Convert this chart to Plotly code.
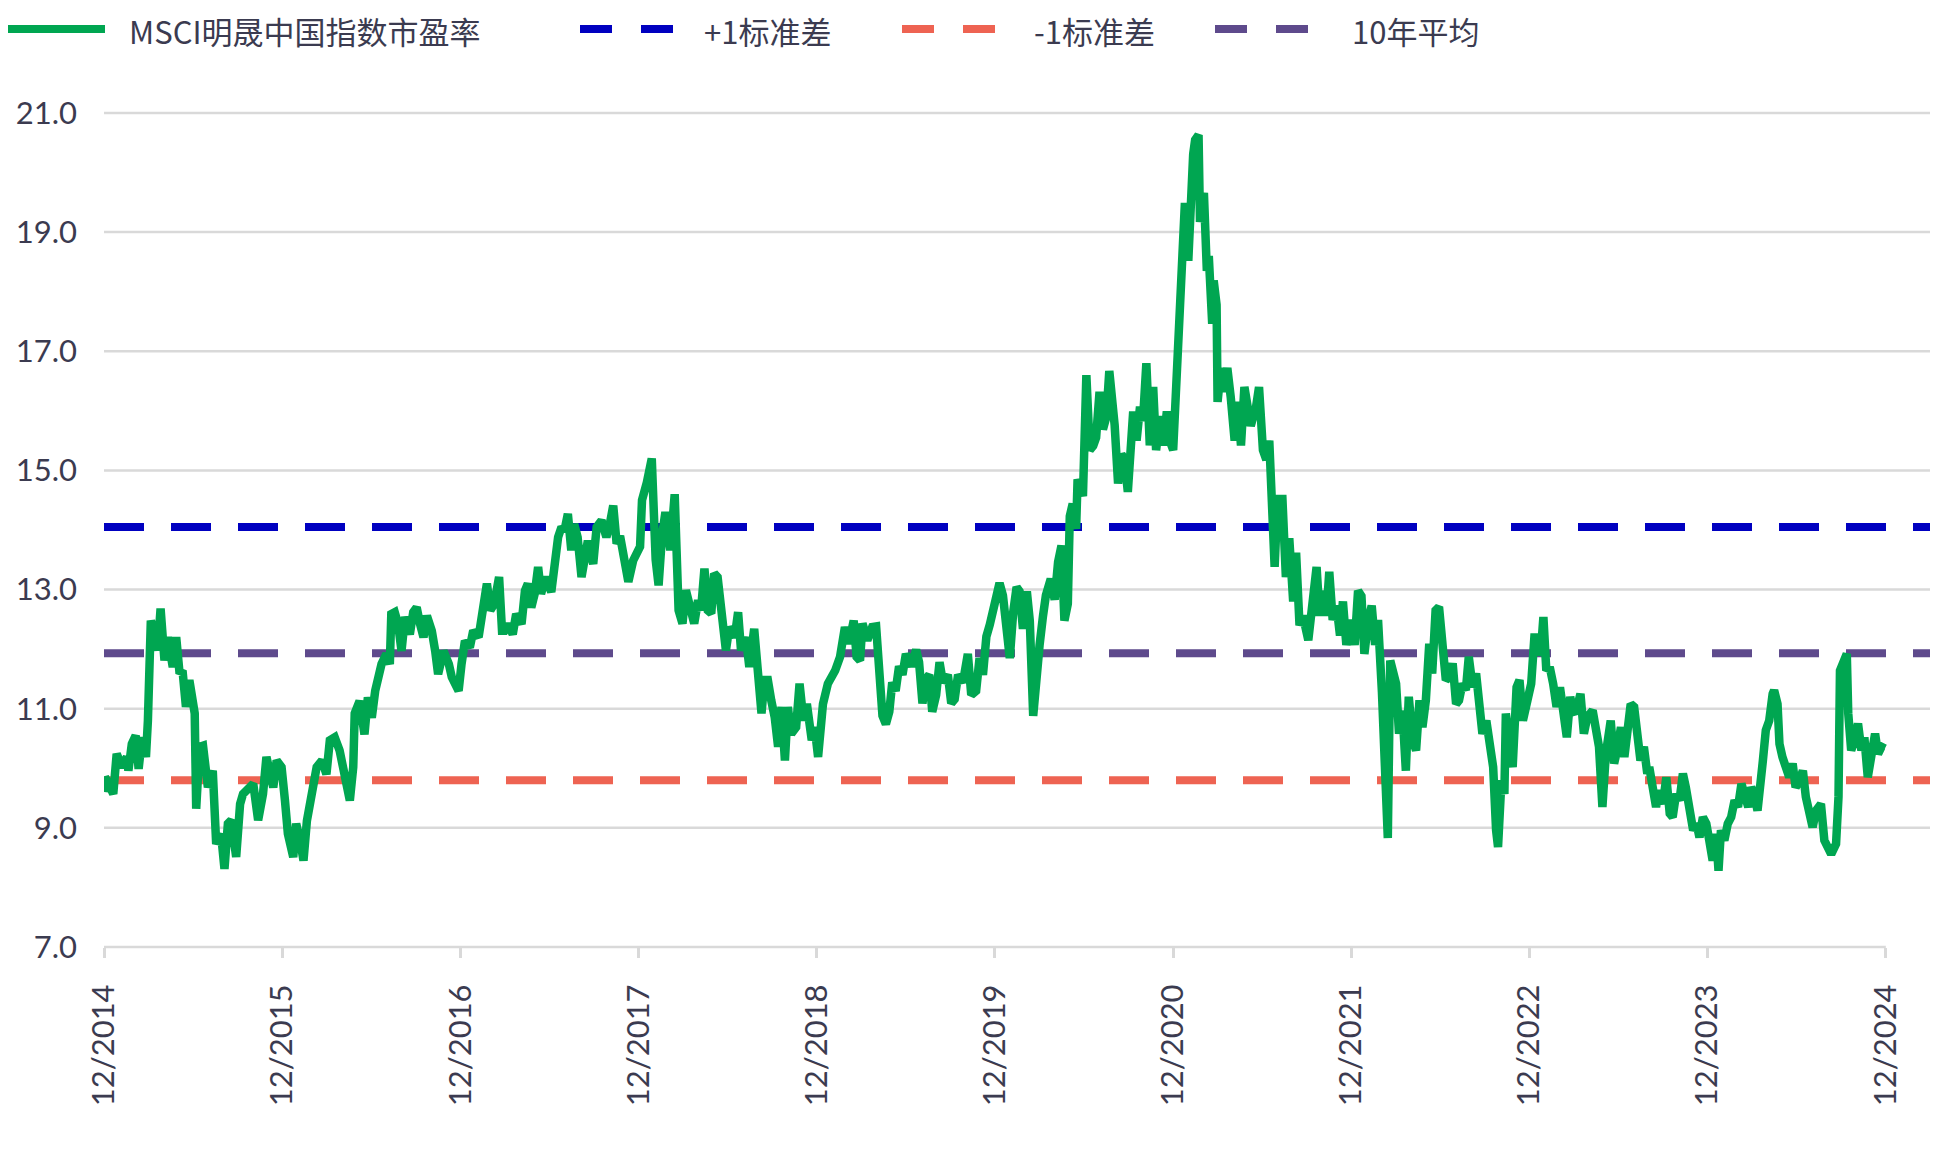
import plotly.graph_objects as go

# MSCI China forward P/E
PE_DATES = [
    "2014-12-01", "2014-12-03", "2014-12-10", "2014-12-20", "2014-12-27",
    "2015-01-07", "2015-01-17", "2015-01-20", "2015-01-27", "2015-02-04",
    "2015-02-10", "2015-02-17", "2015-02-25", "2015-03-01", "2015-03-07",
    "2015-03-14", "2015-03-21", "2015-03-27", "2015-04-04", "2015-04-11",
    "2015-04-21", "2015-04-28", "2015-05-05", "2015-05-11", "2015-05-18",
    "2015-05-25", "2015-06-05", "2015-06-08", "2015-06-15", "2015-06-22",
    "2015-07-02", "2015-07-12", "2015-07-19", "2015-07-29", "2015-08-05",
    "2015-08-12", "2015-08-19", "2015-08-29", "2015-09-06", "2015-09-12",
    "2015-09-23", "2015-10-03", "2015-10-13", "2015-10-23", "2015-10-30",
    "2015-11-06", "2015-11-13", "2015-11-20", "2015-11-30", "2015-12-07",
    "2015-12-13", "2015-12-24", "2015-12-30", "2016-01-07", "2016-01-14",
    "2016-01-21", "2016-01-27", "2016-02-04", "2016-02-10", "2016-02-21",
    "2016-03-01", "2016-03-08", "2016-03-18", "2016-03-28", "2016-04-05",
    "2016-04-11", "2016-04-18", "2016-04-25", "2016-04-28", "2016-05-08",
    "2016-05-18", "2016-05-25", "2016-06-02", "2016-06-09", "2016-06-15",
    "2016-06-22", "2016-07-02", "2016-07-09", "2016-07-12", "2016-07-19",
    "2016-07-26", "2016-08-02", "2016-08-09", "2016-08-19", "2016-08-26",
    "2016-09-02", "2016-09-09", "2016-09-16", "2016-09-23", "2016-10-03",
    "2016-10-10", "2016-10-16", "2016-10-27", "2016-11-07", "2016-11-13",
    "2016-11-20", "2016-11-27", "2016-12-03", "2016-12-10", "2016-12-20",
    "2016-12-27", "2017-01-07", "2017-01-14", "2017-01-20", "2017-01-24",
    "2017-01-31", "2017-02-08", "2017-02-18", "2017-02-24", "2017-03-01",
    "2017-03-08", "2017-03-18", "2017-03-25", "2017-04-05", "2017-04-12",
    "2017-04-18", "2017-04-25", "2017-05-02", "2017-05-09", "2017-05-15",
    "2017-05-25", "2017-06-05", "2017-06-12", "2017-06-19", "2017-06-26",
    "2017-07-02", "2017-07-09", "2017-07-16", "2017-07-22", "2017-07-29",
    "2017-08-06", "2017-08-13", "2017-08-19", "2017-08-30", "2017-09-06",
    "2017-09-16", "2017-09-26", "2017-10-03", "2017-10-10", "2017-10-17",
    "2017-10-24", "2017-11-10", "2017-11-20", "2017-12-04", "2017-12-08",
    "2017-12-18", "2017-12-28", "2018-01-05", "2018-01-11", "2018-01-18",
    "2018-01-25", "2018-02-04", "2018-02-13", "2018-02-21", "2018-03-01",
    "2018-03-08", "2018-03-15", "2018-03-25", "2018-04-02", "2018-04-08",
    "2018-04-15", "2018-04-22", "2018-04-29", "2018-05-05", "2018-05-12",
    "2018-05-19", "2018-05-29", "2018-06-05", "2018-06-16", "2018-06-23",
    "2018-06-29", "2018-07-09", "2018-07-16", "2018-07-26", "2018-08-03",
    "2018-08-10", "2018-08-16", "2018-08-23", "2018-08-30", "2018-09-06",
    "2018-09-13", "2018-09-20", "2018-09-27", "2018-10-03", "2018-10-10",
    "2018-10-20", "2018-10-27", "2018-11-04", "2018-11-11", "2018-11-21",
    "2018-11-27", "2018-12-04", "2018-12-14", "2018-12-24", "2019-01-08",
    "2019-01-18", "2019-01-28", "2019-02-05", "2019-02-15", "2019-02-21",
    "2019-02-28", "2019-03-05", "2019-03-15", "2019-03-25", "2019-04-02",
    "2019-04-08", "2019-04-15", "2019-04-22", "2019-04-29", "2019-05-05",
    "2019-05-12", "2019-05-19", "2019-05-26", "2019-06-02", "2019-06-13",
    "2019-06-23", "2019-06-29", "2019-07-06", "2019-07-13", "2019-07-20",
    "2019-07-26", "2019-08-03", "2019-08-10", "2019-08-17", "2019-08-27",
    "2019-09-03", "2019-09-10", "2019-09-17", "2019-09-27", "2019-10-07",
    "2019-10-14", "2019-10-24", "2019-10-31", "2019-11-07", "2019-11-14",
    "2019-11-21", "2019-11-28", "2019-12-04", "2019-12-11", "2019-12-18",
    "2019-12-24", "2020-01-01", "2020-01-08", "2020-01-15", "2020-01-21",
    "2020-01-28", "2020-02-05", "2020-02-11", "2020-02-18", "2020-02-25",
    "2020-03-02", "2020-03-09", "2020-03-15", "2020-03-25", "2020-04-02",
    "2020-04-09", "2020-04-16", "2020-04-22", "2020-04-29", "2020-05-03",
    "2020-05-09", "2020-05-16", "2020-05-19", "2020-05-30", "2020-06-06",
    "2020-06-13", "2020-06-20", "2020-06-26", "2020-07-03", "2020-07-10",
    "2020-07-17", "2020-07-23", "2020-08-03", "2020-08-10", "2020-08-17",
    "2020-08-23", "2020-08-30", "2020-09-10", "2020-09-17", "2020-09-24",
    "2020-09-30", "2020-10-07", "2020-10-14", "2020-10-21", "2020-10-27",
    "2020-11-04", "2020-11-11", "2020-11-18", "2020-11-24", "2020-12-01",
    "2020-12-05", "2020-12-11", "2020-12-14", "2020-12-18", "2020-12-21",
    "2020-12-25", "2021-01-01", "2021-01-05", "2021-01-11", "2021-01-15",
    "2021-01-22", "2021-01-25", "2021-02-02", "2021-02-05", "2021-02-08",
    "2021-02-12", "2021-02-19", "2021-02-22", "2021-02-28", "2021-03-02",
    "2021-03-09", "2021-03-15", "2021-03-22", "2021-03-29", "2021-04-06",
    "2021-04-12", "2021-04-19", "2021-04-26", "2021-05-03", "2021-05-09",
    "2021-05-20", "2021-05-26", "2021-06-03", "2021-06-10", "2021-06-16",
    "2021-06-27", "2021-07-03", "2021-07-13", "2021-07-20", "2021-07-27",
    "2021-08-04", "2021-08-10", "2021-08-17", "2021-08-24", "2021-09-04",
    "2021-09-11", "2021-09-21", "2021-09-27", "2021-10-04", "2021-10-11",
    "2021-10-17", "2021-10-24", "2021-11-01", "2021-11-08", "2021-11-14",
    "2021-11-21", "2021-12-01", "2021-12-08", "2021-12-15", "2021-12-22",
    "2021-12-28", "2022-01-05", "2022-01-12", "2022-01-19", "2022-01-25",
    "2022-02-02", "2022-02-09", "2022-02-14", "2022-02-19", "2022-02-26",
    "2022-03-03", "2022-03-09", "2022-03-16", "2022-03-23", "2022-03-29",
    "2022-04-06", "2022-04-13", "2022-04-20", "2022-04-26", "2022-05-03",
    "2022-05-10", "2022-05-16", "2022-05-23", "2022-05-30", "2022-06-07",
    "2022-06-13", "2022-06-20", "2022-06-27", "2022-07-04", "2022-07-10",
    "2022-07-17", "2022-07-24", "2022-07-30", "2022-08-07", "2022-08-14",
    "2022-08-21", "2022-08-27", "2022-09-04", "2022-09-11", "2022-09-18",
    "2022-09-24", "2022-09-28", "2022-10-05", "2022-10-11", "2022-10-14",
    "2022-10-21", "2022-10-28", "2022-11-05", "2022-11-11", "2022-11-18",
    "2022-11-25", "2022-12-05", "2022-12-12", "2022-12-19", "2022-12-25",
    "2022-12-30", "2023-01-05", "2023-01-12", "2023-01-19", "2023-01-26",
    "2023-02-02", "2023-02-09", "2023-02-16", "2023-02-23", "2023-02-28",
    "2023-03-06", "2023-03-16", "2023-03-23", "2023-03-30", "2023-04-10",
    "2023-04-16", "2023-04-23", "2023-04-30", "2023-05-07", "2023-05-17",
    "2023-05-24", "2023-05-30", "2023-06-07", "2023-06-14", "2023-06-21",
    "2023-06-27", "2023-07-04", "2023-07-11", "2023-07-17", "2023-07-24",
    "2023-07-31", "2023-08-04", "2023-08-11", "2023-08-18", "2023-08-24",
    "2023-09-01", "2023-09-08", "2023-09-15", "2023-09-21", "2023-09-28",
    "2023-10-05", "2023-10-12", "2023-10-18", "2023-10-25", "2023-11-02",
    "2023-11-09", "2023-11-15", "2023-11-22", "2023-11-29", "2023-12-05",
    "2023-12-12", "2023-12-19", "2023-12-24", "2023-12-29", "2024-01-05",
    "2024-01-12", "2024-01-19", "2024-01-26", "2024-02-02", "2024-02-09",
    "2024-02-16", "2024-02-23", "2024-02-29", "2024-03-06", "2024-03-13",
    "2024-03-20", "2024-03-24", "2024-03-30", "2024-04-06", "2024-04-13",
    "2024-04-16", "2024-04-23", "2024-04-27", "2024-05-03", "2024-05-10",
    "2024-05-17", "2024-05-24", "2024-05-30", "2024-06-07", "2024-06-14",
    "2024-06-20", "2024-06-27", "2024-07-04", "2024-07-11", "2024-07-21",
    "2024-07-28", "2024-08-04", "2024-08-11", "2024-08-21", "2024-08-26",
    "2024-08-29", "2024-09-05", "2024-09-12", "2024-09-15", "2024-09-21",
    "2024-09-28", "2024-10-05", "2024-10-12", "2024-10-18", "2024-10-25",
    "2024-11-02", "2024-11-09", "2024-11-15", "2024-11-22", "2024-11-29",
]

PE_VALUES = [
    9.60, 9.85, 9.75, 9.57, 10.24,
    10.02, 10.19, 9.96, 10.41, 10.55,
    9.99, 10.52, 10.19, 10.80, 12.48,
    12.20, 11.98, 12.68, 11.81, 12.20,
    11.70, 12.20, 11.59, 11.64, 11.03,
    11.48, 10.92, 9.32, 10.36, 10.38,
    9.68, 9.96, 8.73, 8.90, 8.31,
    9.07, 9.13, 8.51, 9.40, 9.57,
    9.68, 9.74, 9.13, 9.57, 10.19,
    9.85, 9.68, 10.13, 10.02, 9.46,
    8.90, 8.51, 9.07, 8.79, 8.45,
    9.12, 9.40, 9.57, 10.02, 10.13,
    9.90, 10.47, 10.52, 10.30, 9.90,
    9.80, 9.46, 10.02, 10.92, 11.13,
    10.57, 11.19, 10.85, 11.30, 11.58,
    11.75, 11.92, 11.75, 12.59, 12.62,
    12.42, 11.97, 12.54, 12.25, 12.62,
    12.70, 12.42, 12.20, 12.56, 12.31,
    11.97, 11.58, 11.97, 11.75, 11.53,
    11.36, 11.30, 11.75, 12.14, 12.03,
    12.31, 12.20, 12.65, 13.04, 13.10,
    12.65, 12.76, 13.21, 12.31, 12.31,
    12.42, 12.25, 12.59, 12.42, 12.98,
    13.10, 12.70, 12.93, 13.38, 12.93,
    13.21, 12.96, 13.54, 13.88, 14.05,
    13.99, 14.27, 13.66, 14.10, 13.88,
    13.21, 13.54, 13.82, 13.43, 14.05,
    14.16, 13.88, 14.10, 14.41, 13.77,
    13.90, 13.13, 13.49, 13.72, 14.50,
    14.80, 15.20, 13.50, 13.07, 13.90,
    14.30, 13.66, 14.60, 12.65, 12.43,
    12.99, 12.71, 12.43, 12.82, 12.65,
    13.35, 12.65, 12.60, 13.27, 13.21,
    12.71, 11.98, 12.37, 12.20, 12.62,
    11.98, 12.20, 11.70, 12.34, 11.42,
    10.92, 11.48, 11.48, 11.14, 10.86,
    10.36, 11.03, 10.13, 11.03, 10.58,
    10.69, 11.42, 10.80, 11.08, 10.47,
    10.69, 10.19, 11.08, 11.42, 11.64,
    11.87, 12.37, 12.09, 12.48, 11.87,
    11.81, 12.43, 12.15, 12.37, 12.38,
    11.71, 10.88, 10.74, 10.95, 11.44,
    11.30, 11.71, 11.57, 11.92, 11.71,
    11.99, 11.78, 11.09, 11.50, 11.57,
    10.95, 11.23, 11.78, 11.44, 11.57,
    11.09, 11.16, 11.57, 11.44, 11.92,
    11.23, 11.30, 11.85, 11.57, 12.21,
    12.41, 12.62, 12.83, 13.11, 12.90,
    12.48, 11.85, 12.62, 13.04, 12.97,
    12.34, 12.97, 12.48, 10.88, 11.71,
    12.06, 12.55, 12.90, 13.18, 12.83,
    13.46, 13.74, 12.48, 12.76, 14.23,
    14.44, 14.02, 14.85, 14.57, 16.60,
    15.34, 15.41, 15.55, 16.32, 15.69,
    15.90, 16.67, 15.76, 14.78, 15.27,
    15.20, 14.64, 15.99, 15.50, 16.07,
    15.83, 16.80, 15.42, 16.40, 15.34,
    15.91, 15.42, 15.99, 15.50, 15.34,
    16.15, 17.05, 17.62, 18.03, 19.00,
    19.49, 18.52, 19.74, 20.31, 20.55,
    20.63, 19.17, 19.66, 19.00, 18.35,
    18.60, 17.46, 18.19, 17.78, 16.15,
    16.72, 16.32, 16.72, 16.23, 15.50,
    16.15, 15.42, 16.40, 15.99, 15.75,
    16.07, 16.40, 15.34, 15.18, 15.50,
    13.38, 14.52, 14.52, 13.21, 13.86,
    12.80, 13.62, 12.40, 12.56, 12.15,
    12.80, 13.38, 12.56, 12.98, 12.56,
    13.30, 12.49, 12.73, 12.23, 12.80,
    12.07, 12.49, 12.07, 12.98, 12.89,
    11.92, 12.49, 12.73, 12.07, 12.49,
    11.27, 9.64, 8.83, 11.81, 11.64,
    11.42, 10.58, 10.97, 9.96, 11.20,
    10.47, 10.30, 11.14, 10.69, 11.14,
    12.09, 11.59, 12.65, 12.71, 11.81,
    11.48, 11.53, 11.76, 11.08, 11.14,
    11.42, 11.31, 11.87, 11.36, 11.59,
    11.08, 10.58, 10.80, 10.30, 10.02,
    8.96, 8.68, 9.80, 9.57, 10.92,
    10.36, 10.02, 11.36, 11.48, 10.80,
    11.08, 11.42, 12.26, 11.92, 11.98,
    12.54, 11.64, 11.70, 11.42, 11.03,
    11.36, 10.92, 10.52, 11.20, 10.97,
    10.92, 11.25, 10.58, 10.86, 10.97,
    10.69, 10.36, 9.35, 10.24, 10.80,
    10.08, 10.30, 10.69, 10.19, 10.58,
    11.08, 11.03, 10.58, 10.13, 10.36,
    9.91, 10.02, 9.63, 9.35, 9.63,
    9.40, 9.85, 9.24, 9.18, 9.57,
    9.46, 9.91, 9.68, 9.35, 8.96,
    9.07, 8.84, 9.18, 9.07, 8.79,
    8.45, 8.90, 8.28, 8.96, 8.79,
    9.07, 9.18, 9.46, 9.35, 9.74,
    9.57, 9.35, 9.68, 9.57, 9.29,
    9.68, 10.13, 10.64, 10.80, 11.25,
    11.31, 11.08, 10.41, 10.19, 10.02,
    9.85, 10.08, 9.68, 9.80, 9.96,
    9.52, 9.24, 9.01, 9.29, 9.40,
    8.79, 8.68, 8.56, 8.73, 9.52,
    11.64, 11.81, 11.92, 10.92, 10.30,
    10.47, 10.75, 10.30, 10.52, 9.85,
    10.19, 10.58, 10.24, 10.36, 10.33,
]

# reference levels
PLUS_1SD = 14.05
MEAN_10Y = 11.93
MINUS_1SD = 9.80

SERIES_NAME = "MSCI明晟中国指数市盈率"
PLUS_NAME = "+1标准差"
MINUS_NAME = "-1标准差"
MEAN_NAME = "10年平均"

X_START = "2014-12-01"
X_END = "2025-03-18"
X_TICK_DATES = [
    "2014-12-01", "2015-12-01", "2016-12-01", "2017-12-01", "2018-12-01",
    "2019-12-01", "2020-12-01", "2021-12-01", "2022-12-01", "2023-12-01",
    "2024-12-01",
]
X_TICK_LABELS = [
    "12/2014", "12/2015", "12/2016", "12/2017", "12/2018", "12/2019",
    "12/2020", "12/2021", "12/2022", "12/2023", "12/2024",
]
Y_TICKS = [7, 9, 11, 13, 15, 17, 19, 21]

GREEN = "#00a651"
BLUE = "#0000c0"
RED = "#ee6352"
PURPLE = "#5e4a8c"
GRID = "#d9d9d9"
TEXT = "#3b3b50"

# the page body has an 8px margin, so the figure is sized to end at the window edge
BODY = 8
W, H = 1938 - BODY, 1155 - BODY
M_L, M_R, M_T, M_B = 104 - BODY, 0, 110 - BODY, 208
DASH = "40px,27px"

fig = go.Figure()

levels = [
    (PLUS_NAME, PLUS_1SD, BLUE),
    (MINUS_NAME, MINUS_1SD, RED),
    (MEAN_NAME, MEAN_10Y, PURPLE),
]
for name, val, color in levels:
    fig.add_trace(
        go.Scatter(
            x=[X_START, X_END],
            y=[val, val],
            name=name,
            mode="lines",
            line=dict(color=color, width=8, dash=DASH),
            showlegend=False,
        )
    )

fig.add_trace(
    go.Scatter(
        x=PE_DATES,
        y=PE_VALUES,
        name=SERIES_NAME,
        mode="lines",
        line=dict(color=GREEN, width=8.5),
        showlegend=False,
    )
)

# horizontal gridlines (the 7.0 line is the short x axis line below)
for v in Y_TICKS[1:]:
    fig.add_hline(y=v, line=dict(color=GRID, width=2.5), layer="below")

fig.add_shape(
    type="line",
    xref="x",
    yref="paper",
    x0=X_TICK_DATES[0],
    x1=X_TICK_DATES[-1],
    y0=0,
    y1=0,
    line=dict(color=GRID, width=2.5),
    layer="below",
)

# hand-built legend across the top (positions given in window pixels)
plot_w = W - M_L - M_R
plot_h = H - M_T - M_B


def px_x(px):
    return (px - BODY - M_L) / plot_w


def px_y(py):
    return (H - M_B - (py - BODY)) / plot_h


legend_line_y = px_y(29)
legend_text_y = px_y(31)
legend_items = [
    (SERIES_NAME, GREEN, "solid", 3, 105, 127),
    (PLUS_NAME, BLUE, "32px,29px", 580, 673, 702),
    (MINUS_NAME, RED, "32px,29px", 902, 995, 1032),
    (MEAN_NAME, PURPLE, "32px,29px", 1215, 1310, 1350),
]
for label, color, dash, x0, x1, tx in legend_items:
    fig.add_shape(
        type="line",
        xref="paper",
        yref="paper",
        x0=px_x(x0),
        x1=px_x(x1),
        y0=legend_line_y,
        y1=legend_line_y,
        line=dict(color=color, width=8, dash=dash),
    )
    fig.add_annotation(
        text=label,
        xref="paper",
        yref="paper",
        x=px_x(tx),
        y=legend_text_y,
        xanchor="left",
        yanchor="middle",
        showarrow=False,
        font=dict(family="Noto Sans CJK SC", size=31, color=TEXT),
    )

fig.update_xaxes(
    type="date",
    range=[X_START, X_END],
    tickmode="array",
    tickvals=X_TICK_DATES,
    ticktext=X_TICK_LABELS,
    tickangle=-90,
    ticks="outside",
    ticklen=10,
    tickwidth=2.5,
    tickcolor=GRID,
    ticklabelstandoff=14,
    showgrid=False,
    showline=False,
    zeroline=False,
    tickfont=dict(family="Lato", size=31, color=TEXT),
)
fig.update_yaxes(
    range=[7, 21.05],
    tickmode="array",
    tickvals=Y_TICKS,
    tickformat=".1f",
    ticks="",
    ticklabelstandoff=26,
    showgrid=False,
    showline=False,
    zeroline=False,
    tickfont=dict(family="Lato", size=31, color=TEXT),
)
fig.update_layout(
    width=W,
    height=H,
    margin=dict(l=M_L, r=M_R, t=M_T, b=M_B, pad=0),
    paper_bgcolor="white",
    plot_bgcolor="white",
    showlegend=False,
    hovermode="x unified",
)

fig.write_html("out.html")
